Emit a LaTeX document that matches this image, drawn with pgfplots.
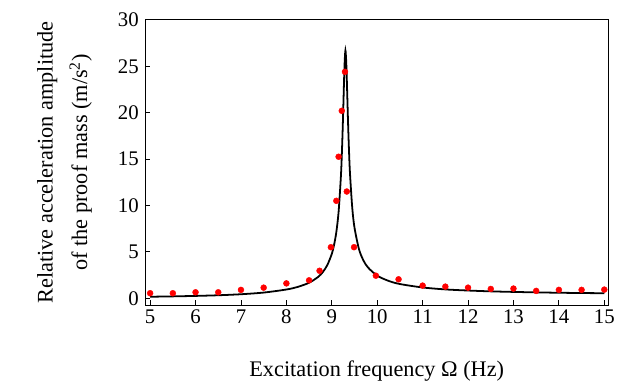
\documentclass[border=0pt]{standalone}
\usepackage{fontspec}
\setmainfont{Liberation Serif}
\usepackage{pgfplots}
\pgfplotsset{compat=1.18}
\begin{document}
\begin{tikzpicture}
\begin{axis}[
  name=ax,
  scale only axis,
  width=466bp, height=287bp,
  xmin=4.89, xmax=15.09,
  ymin=-0.75, ymax=30,
  xtick={5,6,...,15},
  ytick={0,5,...,30},
  xtick pos=left, ytick pos=left,
  tick align=inside,
  major tick length=5bp,
  axis line style={line width=0.9pt},
  tick style={line width=0.8pt, black},
  /pgf/number format/assume math mode=true,
  ticklabel style={font=\fontsize{21}{24}\selectfont},
  xticklabel style={yshift=-1bp},
  yticklabel style={xshift=-3bp},
  xlabel={Excitation frequency Ω (Hz)},
  xlabel style={font=\fontsize{22.5}{26}\selectfont, at={(axis description cs:0.5,0)}, anchor=center, yshift=-66bp},
  ylabel={Relative acceleration amplitude\\of the proof mass (m/s\textsuperscript{2})},
  ylabel style={font=\fontsize{22.5}{35}\selectfont, align=center, at={(axis description cs:-0.174,0.5)}, anchor=center},
]
\addplot[black, line width=1.8pt, smooth] coordinates {
(5,0.16) (5.5,0.2) (6,0.25) (6.5,0.32) (7,0.43) (7.5,0.61) (8,0.94) (8.25,1.22)
(8.5,1.67) (8.7,2.30) (8.8,2.81) (8.9,3.56) (9.0,4.78) (9.05,5.75) (9.1,7.14)
(9.15,9.33) (9.2,13.10) (9.22,15.38) (9.24,18.29) (9.26,21.76) (9.28,25.08)
(9.3,26.7) (9.32,25.20) (9.34,21.98) (9.36,18.60) (9.38,15.74) (9.4,13.49)
(9.45,9.77) (9.5,7.60) (9.6,5.26) (9.7,4.04) (9.8,3.30) (10,2.43) (10.25,1.87)
(10.5,1.53) (11,1.16) (11.5,0.95) (12,0.83) (12.5,0.74) (13,0.68) (13.5,0.63)
(14,0.59) (14.5,0.56) (15,0.54)
};
\addplot[only marks, mark=*, mark size=3bp, red, mark options={draw=red, fill=red}] coordinates {
(5,0.54) (5.5,0.54) (6,0.64) (6.5,0.64) (7,0.9) (7.5,1.14) (8,1.6) (8.5,1.93)
(8.73,2.96) (8.98,5.5) (9.1,10.5) (9.15,15.25) (9.22,20.2) (9.29,24.4)
(9.33,11.5) (9.49,5.5) (9.97,2.43) (10.47,2.04) (11,1.36) (11.5,1.25) (12,1.14)
(12.5,1.0) (13,1.04) (13.5,0.79) (14,0.9) (14.5,0.9) (15,0.93)
};
\end{axis}
\path[use as bounding box] ([shift={(-146bp,-78bp)}]ax.south west) rectangle ([shift={(6bp,20bp)}]ax.north east);
\end{tikzpicture}
\end{document}
